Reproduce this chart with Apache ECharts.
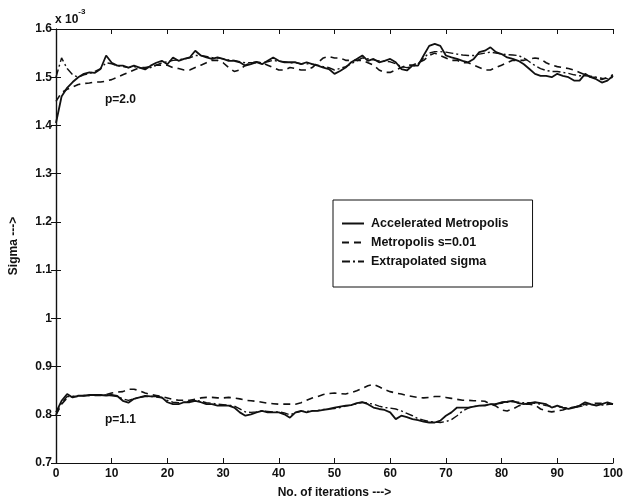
<!DOCTYPE html>
<html>
<head>
<meta charset="utf-8">
<script src="https://cdn.jsdelivr.net/npm/echarts@6/dist/echarts.min.js"></script>
<style>
  html, body { margin: 0; padding: 0; background: #fff; }
  #chart { width: 626px; height: 504px; }
</style>
</head>
<body>
<div id="chart"></div>
<script>
// values in units of 1e-3, one per iteration 0..100
const iterations = Array.from({ length: 101 }, (_, i) => i);

const accelP2 = [
  1.405, 1.460, 1.478, 1.490, 1.500, 1.507, 1.510, 1.509, 1.517, 1.545,
  1.530, 1.524, 1.524, 1.520, 1.524, 1.520, 1.516, 1.524, 1.530, 1.534,
  1.527, 1.541, 1.534, 1.538, 1.541, 1.555, 1.545, 1.541, 1.538, 1.541,
  1.538, 1.534, 1.534, 1.531, 1.524, 1.527, 1.531, 1.527, 1.534, 1.541,
  1.534, 1.531, 1.531, 1.531, 1.527, 1.531, 1.527, 1.524, 1.520, 1.517,
  1.507, 1.513, 1.520, 1.531, 1.538, 1.545, 1.534, 1.538, 1.531, 1.534,
  1.538, 1.531, 1.517, 1.514, 1.524, 1.524, 1.545, 1.565, 1.569, 1.565,
  1.545, 1.541, 1.538, 1.534, 1.531, 1.538, 1.552, 1.555, 1.562, 1.552,
  1.548, 1.541, 1.538, 1.534, 1.527, 1.517, 1.507, 1.503, 1.503, 1.500,
  1.507, 1.503, 1.500, 1.493, 1.493, 1.507, 1.500, 1.496, 1.489, 1.493,
  1.503
];
const metroP2 = [
  1.450, 1.468, 1.475, 1.480, 1.485, 1.487, 1.488, 1.490, 1.490, 1.492,
  1.495, 1.500, 1.505, 1.510, 1.515, 1.520, 1.520, 1.522, 1.525, 1.525,
  1.525, 1.520, 1.518, 1.515, 1.515, 1.520, 1.525, 1.530, 1.535, 1.535,
  1.530, 1.520, 1.512, 1.515, 1.525, 1.530, 1.532, 1.530, 1.525, 1.520,
  1.515, 1.515, 1.520, 1.518, 1.515, 1.515, 1.520, 1.530, 1.540, 1.543,
  1.540, 1.540, 1.535, 1.535, 1.535, 1.535, 1.530, 1.525, 1.515, 1.510,
  1.510, 1.515, 1.520, 1.525, 1.525, 1.530, 1.535, 1.545, 1.550, 1.545,
  1.540, 1.535, 1.535, 1.530, 1.530, 1.525, 1.520, 1.515, 1.515, 1.520,
  1.525, 1.530, 1.535, 1.535, 1.535, 1.538, 1.540, 1.538, 1.530, 1.525,
  1.522, 1.520, 1.518, 1.515, 1.510, 1.505, 1.500, 1.500, 1.495, 1.500,
  1.505
];
const extraP2 = [
  1.500, 1.540, 1.518, 1.505, 1.500, 1.505, 1.508, 1.512, 1.518, 1.530,
  1.528, 1.524, 1.522, 1.520, 1.522, 1.520, 1.518, 1.520, 1.525, 1.530,
  1.532, 1.535, 1.536, 1.538, 1.540, 1.545, 1.545, 1.543, 1.541, 1.540,
  1.538, 1.536, 1.535, 1.532, 1.530, 1.530, 1.530, 1.530, 1.532, 1.535,
  1.533, 1.532, 1.530, 1.530, 1.528, 1.528, 1.527, 1.525, 1.522, 1.520,
  1.515, 1.518, 1.522, 1.528, 1.534, 1.540, 1.538, 1.536, 1.534, 1.533,
  1.532, 1.528, 1.522, 1.520, 1.522, 1.528, 1.540, 1.550, 1.553, 1.553,
  1.552, 1.550, 1.548, 1.546, 1.545, 1.545, 1.548, 1.550, 1.552, 1.550,
  1.548, 1.547, 1.546, 1.545, 1.540, 1.532, 1.524, 1.518, 1.514, 1.512,
  1.512, 1.510, 1.508, 1.505, 1.503, 1.503, 1.502, 1.500, 1.498, 1.497,
  1.500
];

const accelP11 = [
  0.805, 0.829, 0.843, 0.836, 0.839, 0.839, 0.841, 0.841, 0.841, 0.840,
  0.841, 0.839, 0.829, 0.825, 0.833, 0.836, 0.839, 0.838, 0.838, 0.836,
  0.826, 0.822, 0.822, 0.826, 0.826, 0.829, 0.826, 0.822, 0.822, 0.819,
  0.819, 0.819, 0.815, 0.805, 0.798, 0.801, 0.805, 0.808, 0.805, 0.805,
  0.805, 0.801, 0.794, 0.805, 0.808, 0.805, 0.808, 0.808, 0.810, 0.812,
  0.815, 0.817, 0.819, 0.820, 0.824, 0.826, 0.822, 0.815, 0.812, 0.810,
  0.805, 0.791, 0.798, 0.795, 0.791, 0.789, 0.786, 0.784, 0.784, 0.788,
  0.798, 0.805, 0.815, 0.815, 0.815, 0.817, 0.819, 0.819, 0.822, 0.822,
  0.826, 0.827, 0.829, 0.824, 0.822, 0.824, 0.826, 0.824, 0.822, 0.815,
  0.819, 0.815, 0.812, 0.815, 0.819, 0.826, 0.822, 0.819, 0.822, 0.826,
  0.822
];
const metroP11 = [
  0.800, 0.822, 0.835, 0.838, 0.838, 0.840, 0.840, 0.840, 0.840, 0.842,
  0.845, 0.847, 0.848, 0.853, 0.853, 0.850, 0.845, 0.842, 0.840, 0.838,
  0.835, 0.832, 0.830, 0.830, 0.830, 0.832, 0.835, 0.836, 0.836, 0.835,
  0.835, 0.836, 0.835, 0.833, 0.830, 0.829, 0.828, 0.826, 0.824, 0.823,
  0.822, 0.822, 0.822, 0.822, 0.825, 0.830, 0.835, 0.838, 0.842, 0.844,
  0.845, 0.844, 0.843, 0.846, 0.850, 0.855, 0.860, 0.863, 0.858, 0.852,
  0.848, 0.845, 0.843, 0.840, 0.838, 0.836, 0.835, 0.836, 0.838, 0.838,
  0.836, 0.834, 0.832, 0.830, 0.830, 0.829, 0.829, 0.828, 0.822, 0.818,
  0.810, 0.808, 0.812, 0.818, 0.822, 0.822, 0.820, 0.812, 0.808, 0.806,
  0.808, 0.810, 0.814, 0.816, 0.818, 0.822, 0.823, 0.824, 0.824, 0.823,
  0.822
];
const extraP11 = [
  0.800, 0.825, 0.838, 0.838, 0.840, 0.840, 0.840, 0.841, 0.841, 0.841,
  0.840, 0.838, 0.833, 0.830, 0.833, 0.836, 0.838, 0.838, 0.837, 0.835,
  0.830, 0.826, 0.825, 0.826, 0.828, 0.830, 0.828, 0.825, 0.824, 0.822,
  0.821, 0.820, 0.818, 0.812, 0.806, 0.805, 0.806, 0.808, 0.807, 0.806,
  0.806, 0.804, 0.800, 0.804, 0.807, 0.807, 0.808, 0.809, 0.811, 0.812,
  0.813, 0.815, 0.818, 0.820, 0.823, 0.826, 0.824, 0.822, 0.818, 0.815,
  0.814, 0.812, 0.808, 0.803, 0.798, 0.792, 0.789, 0.786, 0.785, 0.784,
  0.786, 0.790, 0.798, 0.808, 0.814, 0.817, 0.819, 0.820, 0.821, 0.823,
  0.824, 0.826, 0.827, 0.826, 0.825, 0.825, 0.824, 0.822, 0.819, 0.817,
  0.817, 0.815, 0.814, 0.815, 0.817, 0.820, 0.821, 0.820, 0.820, 0.821,
  0.823
];

const xTicks = [0, 10, 20, 30, 40, 50, 60, 70, 80, 90, 100];
const yTicks = [0.7, 0.8, 0.9, 1.0, 1.1, 1.2, 1.3, 1.4, 1.5, 1.6];
const yTickLabels = ["0.7", "0.8", "0.9", "1", "1.1", "1.2", "1.3", "1.4", "1.5", "1.6"];

const legendNames = ["Accelerated Metropolis", "Metropolis s=0.01", "Extrapolated sigma"];

const ink = "#111";
const font = "Liberation Sans";

const chart = echarts.init(document.getElementById("chart"));

function pairs(values) {
  return values.map((v, i) => [iterations[i], v]);
}

function lineSeries(name, values, type, width) {
  return {
    name: name,
    type: "line",
    data: pairs(values),
    showSymbol: false,
    symbol: "none",
    silent: true,
    animation: false,
    lineStyle: { color: ink, width: width, type: type },
    itemStyle: { color: ink }
  };
}

const solid = "solid";
const dashed = [7, 5];
const dashDot = [8, 3, 2, 3];

const labelStyle = { color: ink, fontFamily: font, fontSize: 12, fontWeight: "bold" };

const option = {
  backgroundColor: "#fff",
  animation: false,
  grid: { left: 53, right: 13, top: 29, bottom: 41 },
  xAxis: [
    {
      type: "value",
      min: 0,
      max: 100,
      interval: 10,
      name: "No. of iterations --->",
      nameLocation: "middle",
      nameGap: 24,
      nameTextStyle: labelStyle,
      axisLine: { lineStyle: { color: ink, width: 1.2 } },
      axisTick: { inside: true, length: 5, lineStyle: { color: ink } },
      axisLabel: Object.assign({ margin: 5 }, labelStyle),
      splitLine: { show: false }
    },
    {
      type: "value",
      position: "top",
      min: 0,
      max: 100,
      interval: 10,
      axisLine: { lineStyle: { color: ink, width: 1.2 } },
      axisTick: { inside: true, length: 5, lineStyle: { color: ink } },
      axisLabel: { show: false },
      splitLine: { show: false }
    }
  ],
  yAxis: [
    {
      type: "value",
      min: 0.7,
      max: 1.6,
      interval: 0.1,
      name: "Sigma --->",
      nameLocation: "middle",
      nameGap: 36,
      nameTextStyle: labelStyle,
      axisLine: { lineStyle: { color: ink, width: 1.2 } },
      axisTick: { inside: true, length: 5, lineStyle: { color: ink } },
      axisLabel: Object.assign({
        margin: 4,
        formatter: function (v) {
          const idx = yTicks.findIndex((t) => Math.abs(t - v) < 1e-6);
          return idx >= 0 ? yTickLabels[idx] : "";
        }
      }, labelStyle),
      splitLine: { show: false }
    },
    {
      type: "value",
      position: "right",
      min: 0.7,
      max: 1.6,
      interval: 0.1,
      axisLine: { lineStyle: { color: ink, width: 1.2 } },
      axisTick: { inside: true, length: 5, lineStyle: { color: ink } },
      axisLabel: { show: false },
      splitLine: { show: false }
    }
  ],
  legend: {
    data: legendNames,
    orient: "vertical",
    left: 333,
    top: 200,
    itemWidth: 22,
    itemHeight: 10,
    itemGap: 6,
    padding: [17, 24, 19, 8],
    backgroundColor: "#fff",
    borderColor: ink,
    borderWidth: 1,
    borderRadius: 0,
    selectedMode: false,
    itemStyle: { color: "transparent", borderWidth: 0, opacity: 0 },
    textStyle: { color: ink, fontFamily: font, fontSize: 12.5, fontWeight: "bold", padding: [0, 0, 0, 2] }
  },
  graphic: [
    {
      type: "text",
      left: 55,
      top: 8,
      style: {
        text: "{b|x 10}{s|-3}",
        rich: {
          b: { fontFamily: font, fontSize: 12, fontWeight: "bold", fill: ink, padding: [6, 0, 0, 0] },
          s: { fontFamily: font, fontSize: 8, fontWeight: "bold", fill: ink, verticalAlign: "top" }
        }
      }
    },
    {
      type: "text",
      left: 105,
      top: 94,
      style: { text: "p=2.0", fontFamily: font, fontSize: 12, fontWeight: "bold", fill: ink }
    },
    {
      type: "text",
      left: 105,
      top: 414,
      style: { text: "p=1.1", fontFamily: font, fontSize: 12, fontWeight: "bold", fill: ink }
    }
  ],
  series: [
    lineSeries(legendNames[0], accelP2, solid, 1.8),
    lineSeries(legendNames[1], metroP2, dashed, 1.6),
    lineSeries(legendNames[2], extraP2, dashDot, 1.4),
    lineSeries(legendNames[0], accelP11, solid, 1.8),
    lineSeries(legendNames[1], metroP11, dashed, 1.6),
    lineSeries(legendNames[2], extraP11, dashDot, 1.4)
  ]
};

chart.setOption(option);
</script>
</body>
</html>
